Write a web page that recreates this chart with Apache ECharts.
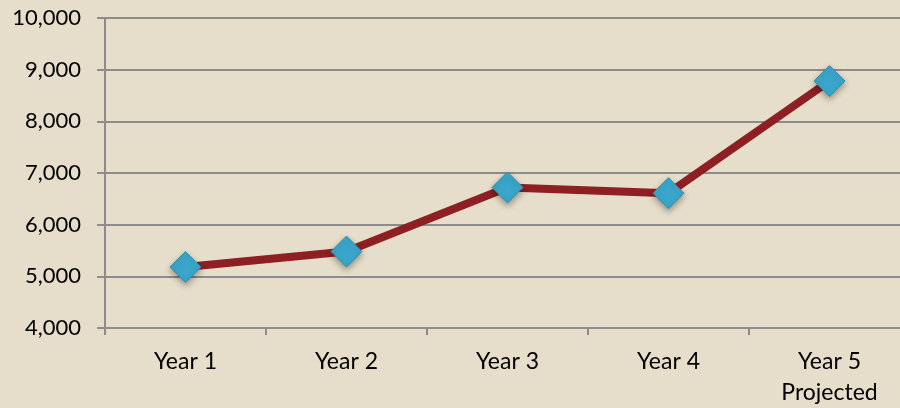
<!DOCTYPE html>
<html><head><meta charset="utf-8">
<script src="https://cdn.jsdelivr.net/npm/echarts@6/dist/echarts.min.js"></script>
<style>html,body{margin:0;padding:0;background:#E6DECA;overflow:hidden;width:900px;height:408px;}#c{width:910px;height:408px;}</style>
</head><body><div id="c"></div>
<script>
const categories = ['Year 1', 'Year 2', 'Year 3', 'Year 4', 'Year 5\nProjected'];
const values = [5180, 5480, 6720, 6610, 8780];
const yMin = 4000, yMax = 10000, yStep = 1000;

const chart = echarts.init(document.getElementById('c'));
chart.setOption({
  backgroundColor: '#E6DECA',
  animation: false,
  grid: { left: 105, right: 0, top: 18, bottom: 78 },
  xAxis: {
    type: 'category', data: categories, boundaryGap: true,
    axisLine: { lineStyle: { color: '#8C8C8C', width: 2 } },
    axisTick: { show: true, length: 7, lineStyle: { color: '#8C8C8C', width: 2 } },
    axisLabel: { color: '#000', fontFamily: 'Lato', fontSize: 23, margin: 18, lineHeight: 31 }
  },
  yAxis: {
    type: 'value', min: yMin, max: yMax, interval: yStep,
    axisLine: { show: true, lineStyle: { color: '#8C8C8C', width: 2 } },
    axisTick: { show: true, length: 8, lineStyle: { color: '#8C8C8C', width: 2 } },
    splitLine: { lineStyle: { color: '#8C8C8C', width: 2 } },
    axisLabel: { color: '#000', fontFamily: 'Lato', fontSize: 22, margin: 24,
      formatter: v => v.toLocaleString('en-US') }
  },
  series: [{
    type: 'line', data: values,
    lineStyle: { color: '#8E1F22', width: 8 },
    symbol: 'diamond', symbolSize: 31,
    itemStyle: { color: '#3AA6CB', borderColor: '#2E8FB0', borderWidth: 1,
      shadowColor: 'rgba(0,0,0,0.35)', shadowBlur: 6, shadowOffsetY: 3 }
  }]
});
</script></body></html>
